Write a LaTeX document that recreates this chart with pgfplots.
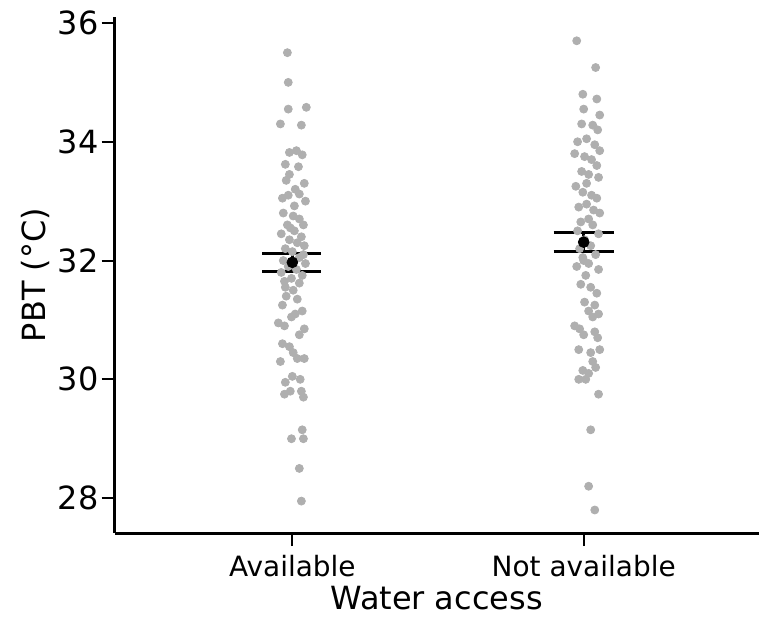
\documentclass[border=0pt]{standalone}
\usepackage{fontspec}
\setmainfont{DejaVu Sans}
\usepackage{pgfplots}
\usepackage{pgfplotstable}
\pgfplotsset{compat=1.18}

\definecolor{ptgray}{HTML}{AFAFAF}

% jittered observations, x = category position (1 or 2) plus jitter
\pgfplotstableread{
x y
0.983 35.50
0.986 35.00
0.986 34.55
1.048 34.58
0.959 34.30
1.031 34.28
0.990 33.82
1.014 33.85
1.034 33.78
0.976 33.62
1.021 33.58
0.990 33.45
1.041 33.30
1.010 33.20
0.986 33.10
0.966 33.05
1.024 33.12
1.045 33.00
0.969 32.80
1.003 32.75
1.024 32.70
0.983 32.60
1.038 32.60
1.007 32.50
0.962 32.45
1.031 32.40
0.990 32.35
1.017 32.30
0.976 32.20
1.041 32.25
1.000 32.15
1.024 32.05
0.969 32.00
1.045 31.95
0.986 31.90
1.014 31.85
0.962 31.80
1.034 31.75
0.997 31.70
1.024 31.62
0.976 31.55
1.003 31.50
0.979 31.40
0.966 31.25
0.997 31.05
1.010 31.10
1.034 31.15
0.952 30.95
0.973 30.90
1.041 30.85
1.024 30.75
0.966 30.60
0.990 30.55
1.003 30.45
1.017 30.35
1.041 30.35
0.959 30.30
1.000 30.05
1.027 30.00
0.976 29.95
0.973 29.75
0.993 29.80
1.031 29.80
1.038 29.70
1.034 29.15
0.997 29.00
1.038 29.00
1.024 28.50
1.031 27.95
0.979 33.35
1.007 32.92
0.993 32.55
1.038 32.10
0.973 31.65
1.017 31.35
}\available

\pgfplotstableread{
x y
1.976 35.70
2.041 35.25
1.997 34.80
2.045 34.72
2.000 34.55
2.055 34.45
1.993 34.30
2.031 34.28
2.048 34.20
1.979 34.00
2.010 34.05
2.038 33.95
2.055 33.85
1.969 33.80
2.003 33.75
2.027 33.70
2.045 33.60
1.993 33.50
2.017 33.45
2.051 33.40
1.973 33.25
1.997 33.15
2.027 33.10
2.045 33.05
2.010 32.95
2.034 32.85
2.055 32.80
2.017 32.70
1.990 32.65
1.979 32.50
2.051 32.45
2.003 32.35
2.024 32.25
1.986 32.20
2.041 32.10
1.997 32.05
2.017 31.95
1.976 31.90
2.051 31.85
2.007 31.75
1.990 31.60
2.024 31.55
2.003 31.30
2.038 31.25
2.017 31.15
2.031 31.05
2.051 31.10
1.969 30.90
1.986 30.85
2.000 30.75
2.038 30.80
2.048 30.70
1.983 30.50
2.024 30.45
2.055 30.50
2.031 30.30
2.041 30.20
1.997 30.15
2.017 30.10
1.983 30.00
2.007 30.00
2.051 29.75
2.024 29.15
2.017 28.20
2.038 27.80
2.010 33.30
1.983 32.90
2.031 32.60
2.000 32.00
2.045 31.45
}\notavailable

\begin{document}
\begin{tikzpicture}[font=\fontsize{14}{16}\selectfont]
  \begin{axis}[
      scale only axis,
      width=322.5pt,
      height=258.5pt,
      xmin=0.39, xmax=2.6,
      ymin=27.41, ymax=36.1,
      clip=false,
      axis x line*=bottom,
      axis y line*=left,
      axis line style={line width=1.5pt},
      tick align=outside,
      major tick length=6.5pt,
      tick style={line width=1pt, black},
      xtick={1,2},
      xticklabels={Available,Not available},
      ytick={28,30,32,34,36},
      /pgf/number format/assume math mode=true,
      xticklabel style={yshift=-1pt},
      yticklabel style={xshift=2pt, font=\fontsize{16}{18}\selectfont},
      xlabel={Water access},
      ylabel={PBT (°C)},
      label style={font=\fontsize{16}{18}\selectfont},
      xlabel style={yshift=2pt},
      ylabel style={yshift=-3pt},
    ]
    \path (rel axis cs:-0.178,-0.159) (rel axis cs:1,1.033);
    \addplot[only marks, mark=*, mark size=2pt, color=ptgray]
      table[x=x, y=y] {\available};
    \addplot[only marks, mark=*, mark size=2pt, color=ptgray]
      table[x=x, y=y] {\notavailable};
    % standard error: caps and stem
    \addplot[black, line width=1.3pt] coordinates {(0.897,32.12) (1.099,32.12)};
    \addplot[black, line width=1.3pt] coordinates {(0.897,31.82) (1.099,31.82)};
    \addplot[black, line width=1.3pt] coordinates {(1,31.82) (1,32.12)};
    \addplot[black, line width=1.3pt] coordinates {(1.897,32.47) (2.103,32.47)};
    \addplot[black, line width=1.3pt] coordinates {(1.897,32.15) (2.103,32.15)};
    \addplot[black, line width=1.3pt] coordinates {(2,32.15) (2,32.47)};
    % means
    \addplot[only marks, mark=*, mark size=2.7pt, black]
      coordinates {(1,31.97) (2,32.31)};
  \end{axis}
\end{tikzpicture}
\end{document}
